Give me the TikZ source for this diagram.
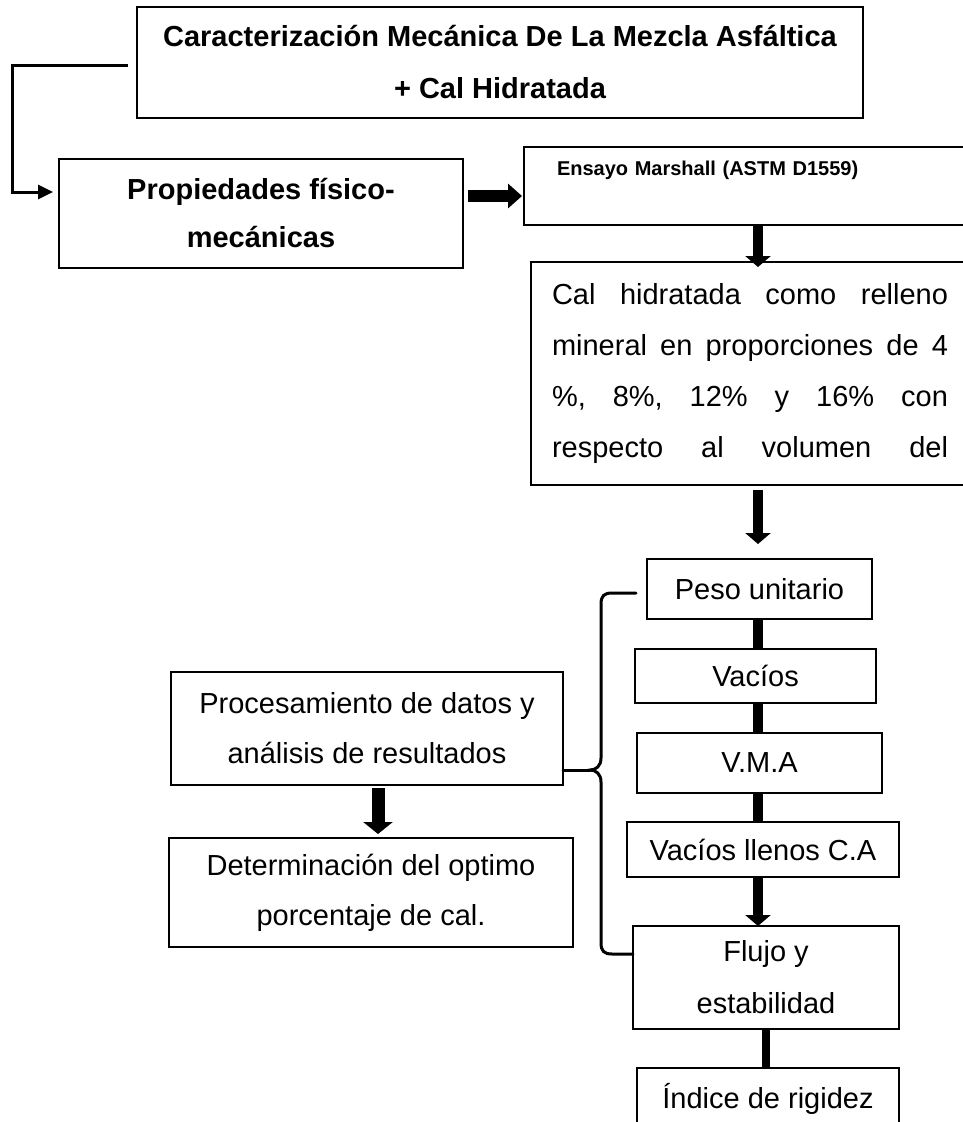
\documentclass[tikz,border=0pt]{standalone}
\usepackage{fontspec}
\setmainfont{Liberation Sans}
\usetikzlibrary{arrows.meta,positioning}

\begin{document}
\begin{tikzpicture}[
  x=1pt, y=-1pt,
  font=\fontsize{29}{50}\selectfont,
  box/.style={draw, line width=1.3pt, outer sep=0pt, inner sep=0pt, align=center},
  arr/.style={line width=10pt, -{Triangle[length=11pt,width=25pt]}},
  bar/.style={line width=10pt},
  leader/.style={line width=3pt, -{Triangle[length=15pt,width=14pt]}},
  brace/.style={line width=3pt, line cap=round},
]
\clip[use as bounding box] (0,0) rectangle (963,1122);

%% ---------- top: title and first steps ----------
\node[box, minimum width=726, minimum height=111, font=\bfseries\fontsize{29}{52}\selectfont] (title) at (500,62.5)
  {Caracterización Mecánica De La Mezcla Asfáltica\\+ Cal Hidratada};
\node[box, minimum width=404, minimum height=109, font=\bfseries\fontsize{29}{48}\selectfont] (prop) at (261,213.5)
  {Propiedades físico-\\mecánicas};
\node[box, right=61pt of prop, yshift=27.5pt, minimum height=78, align=left, text width=390pt, inner xsep=33pt,
  font=\bfseries\fontsize{20}{28}\selectfont] (ens) {Ensayo Marshall (ASTM D1559)\\ \strut};
\node[box, below=37pt of ens, xshift=-2pt, minimum height=223, align=left, text width=396pt, inner xsep=21pt,
  font=\fontsize{29}{51}\selectfont] (cal)
  {\makebox[396pt]{Cal\hfill hidratada\hfill como\hfill relleno}\\
   \makebox[396pt]{mineral\hfill en\hfill proporciones\hfill de\hfill 4}\\
   \makebox[396pt]{\%,\hfill 8\%,\hfill 12\%\hfill y\hfill 16\%\hfill con}\\
   \makebox[396pt]{respecto\hfill al\hfill volumen\hfill del}};

%% ---------- right column: Marshall results ----------
\node[box, below=74pt of cal, xshift=9.5pt, minimum width=225, minimum height=60] (peso) {Peso unitario};
\node[box, below=30pt of peso, xshift=-4pt, minimum width=241, minimum height=54] (vac) {Vacíos};
\node[box, below=30pt of vac, xshift=4pt, minimum width=245, minimum height=60] (vma) {V.M.A};
\node[box, below=29pt of vma, xshift=3.5pt, minimum width=272, minimum height=55] (vll) {Vacíos llenos C.A};
\node[box, below=49pt of vll, xshift=3pt, minimum width=266, minimum height=103, font=\fontsize{29}{52}\selectfont] (flujo)
  {Flujo y\\estabilidad};
\node[box, below=39pt of flujo, xshift=2pt, minimum width=262, minimum height=62] (ind) {Índice de rigidez};

%% ---------- left column: analysis ----------
\node[box, minimum width=392, minimum height=113] (proc) at (367,728.5)
  {Procesamiento de datos y\\análisis de resultados};
\node[box, below=53pt of proc, xshift=4pt, minimum width=404, minimum height=109] (det)
  {Determinación del optimo\\porcentaje de cal.};

\coordinate (axis) at (758,0);
\coordinate (axisb) at (378,0);
\coordinate (tip) at (590,770);

%% ---------- connectors ----------
\draw[leader] ([shift={(-9,2.5)}]title.west) -- ++(-116,0) |- ([shift={(-6,-21.5)}]prop.west);
\draw[arr, line width=12pt, -{Triangle[length=14pt,width=24pt]}] ([shift={(5,-17.5)}]prop.east) -- ([shift={(-2,10)}]ens.west);
\draw[arr, shorten >=-5pt] (ens.south -| axis) -- (cal.north -| axis);
\draw[arr, shorten <=5pt, shorten >=15pt] (cal.south -| axis) -- (peso.north -| axis);
\foreach \a/\b in {peso/vac, vac/vma, vma/vll}
  \draw[bar] (\a.south -| axis) -- (\b.north -| axis);
\draw[arr] (vll.south -| axis) -- (flujo.north -| axis);
\draw[bar, line width=8pt] (flujo.south) -- (flujo.south |- ind.north);
\draw[arr, line width=13pt, -{Triangle[length=12pt,width=29pt]}, shorten <=3pt, shorten >=4pt]
  (proc.south -| axisb) -- (det.north -| axisb);

% brace grouping the results
\draw[brace] ([shift={(-11,4)}]peso.west) -- (612,593) .. controls (604,593) and (601,596) .. (601,604)
  -- (601,758) .. controls (601,766) and (596,770) .. (tip)
  .. controls (596,770) and (601,774) .. (601,782)
  -- (601,943) .. controls (601,951) and (604,954) .. (612,954) -- ([shift={(0,-23.5)}]flujo.west);
\draw[brace] ([shift={(0,41.5)}]proc.east) -- (tip);

\end{tikzpicture}
\end{document}
